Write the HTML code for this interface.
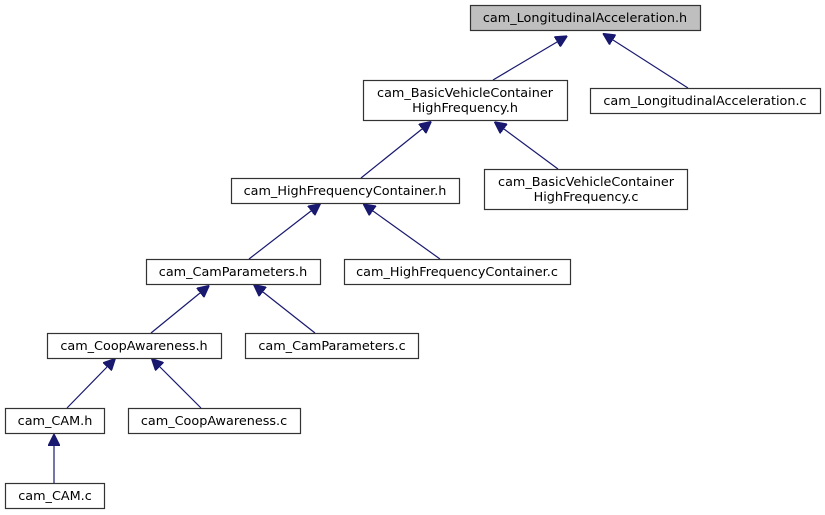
<!DOCTYPE html>
<html><head><meta charset="utf-8"><style>
html,body{margin:0;padding:0;background:#fff;width:825px;height:515px;overflow:hidden}
text{font-family:"DejaVu Sans","Liberation Sans",sans-serif;font-size:12.8px;fill:#000}
</style></head><body>
<svg width="825" height="515" viewBox="0 0 825 515" xmlns="http://www.w3.org/2000/svg">
<defs>
<marker id="a" viewBox="0 0 10 10" refX="0" refY="5" markerWidth="12" markerHeight="12" markerUnits="userSpaceOnUse" orient="auto-start-reverse">
<path d="M0,0 L10,5 L0,10 z" fill="#191970" stroke="#191970"/>
</marker>
</defs>
<g stroke="#191970" stroke-width="1.2" fill="none" marker-start="url(#a)">
<line x1="557" y1="42" x2="493" y2="80"/>
<line x1="613" y1="40" x2="688" y2="88"/>
<line x1="422" y1="129" x2="361" y2="178"/>
<line x1="504" y1="129" x2="558" y2="169"/>
<line x1="311" y1="211" x2="249" y2="259"/>
<line x1="373" y1="211" x2="440" y2="259"/>
<line x1="200" y1="293" x2="151" y2="333"/>
<line x1="263" y1="292" x2="315" y2="333"/>
<line x1="107" y1="367" x2="67" y2="408"/>
<line x1="160" y1="367" x2="201" y2="408"/>
<line x1="54" y1="446" x2="54" y2="483"/>
</g>
<g stroke="#333" stroke-width="1.2" fill="#fff">
<rect x="470.5" y="5.5" width="230" height="25" fill="#bfbfbf"/>
<rect x="363.5" y="80.5" width="204" height="40"/>
<rect x="590.5" y="88.5" width="230" height="25"/>
<rect x="231.5" y="178.5" width="228" height="25"/>
<rect x="484.5" y="169.5" width="203" height="40"/>
<rect x="146.5" y="259.5" width="174" height="25"/>
<rect x="344.5" y="259.5" width="226" height="25"/>
<rect x="47.5" y="333.5" width="174" height="25"/>
<rect x="245.5" y="333.5" width="173" height="25"/>
<rect x="5.5" y="408.5" width="99" height="25"/>
<rect x="128.5" y="408.5" width="172" height="25"/>
<rect x="5.5" y="483.5" width="99" height="25"/>
</g>
<g text-anchor="middle">
<text x="585" y="22">cam_LongitudinalAcceleration.h</text>
<text x="465" y="97">cam_BasicVehicleContainer</text>
<text x="465" y="112">HighFrequency.h</text>
<text x="705" y="105">cam_LongitudinalAcceleration.c</text>
<text x="345" y="195">cam_HighFrequencyContainer.h</text>
<text x="586" y="186">cam_BasicVehicleContainer</text>
<text x="586" y="201">HighFrequency.c</text>
<text x="233" y="276">cam_CamParameters.h</text>
<text x="457" y="276">cam_HighFrequencyContainer.c</text>
<text x="134" y="350">cam_CoopAwareness.h</text>
<text x="332" y="350">cam_CamParameters.c</text>
<text x="55" y="425">cam_CAM.h</text>
<text x="214" y="425">cam_CoopAwareness.c</text>
<text x="55" y="500">cam_CAM.c</text>
</g>
</svg>
</body></html>
